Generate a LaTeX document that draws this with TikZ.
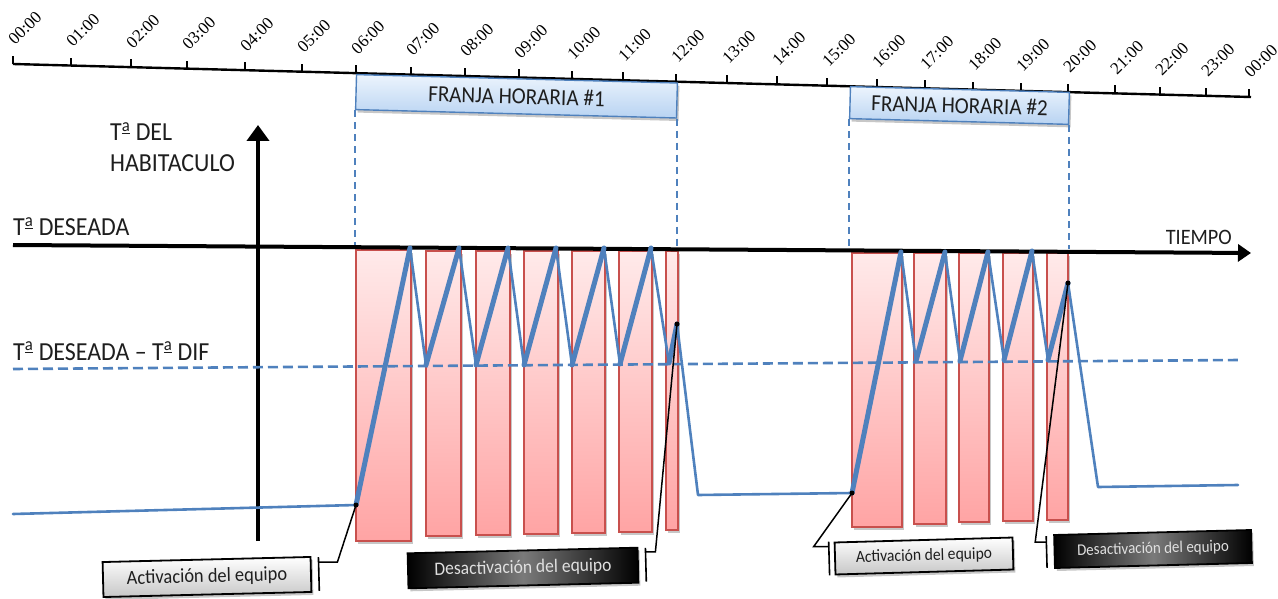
\documentclass[tikz,border=0pt]{standalone}
\usepackage{fontspec}
\newfontfamily\lblfont[FakeStretch=0.92]{Carlito}
\newfontfamily\timefont{Liberation Serif}
\usetikzlibrary{arrows.meta,shadows,calc}

% feminine ordinal with its underline, as in "Tª"
\newcommand\ordfem{\textsuperscript{\underline{a}}}

\definecolor{curveblue}{RGB}{79,129,189}
\definecolor{barred}{RGB}{200,80,77}
\definecolor{bartop}{RGB}{255,234,234}
\definecolor{barbot}{RGB}{255,164,164}
\definecolor{bandtop}{RGB}{236,244,253}
\definecolor{bandbot}{RGB}{184,211,242}
\definecolor{txtdark}{RGB}{30,30,30}

\tikzset{
  softshadow/.style={drop shadow={shadow xshift=2pt,shadow yshift=-3pt,opacity=0.22,fill=black}},
  timeaxis/.style={line width=2.4pt,black},
  tickline/.style={line width=2.4pt,black},
  timelbl/.style={font=\timefont\fontsize{17}{17}\selectfont,rotate=45,anchor=base west,inner sep=0pt},
  band/.style={draw=curveblue,line width=1.4pt,top color=bandtop,bottom color=bandbot,
    inner sep=0pt,softshadow,text=txtdark,font=\lblfont\fontsize{23}{23}\selectfont},
  guide/.style={curveblue,line width=1.6pt,dash pattern=on 7pt off 5pt},
  heatbar/.style={draw=barred,line width=1.4pt,top color=bartop,bottom color=barbot,softshadow},
  mainaxis/.style={line width=4pt,black},
  threshold/.style={curveblue,line width=2.6pt,dash pattern=on 10pt off 5pt},
  cooling/.style={curveblue,line width=2.6pt,line join=round,line cap=round},
  heating/.style={curveblue,line width=5pt,line join=round,line cap=round},
  bigtxt/.style={font=\lblfont\fontsize{26}{26}\selectfont,text=txtdark,inner sep=0pt,anchor=base west},
  callgray/.style={draw=black,line width=1.8pt,top color=white,bottom color=black!22,
    inner sep=0pt,softshadow,text=txtdark},
  callblack/.style={draw=black,line width=1.8pt,left color=black,right color=black,middle color=black!52,
    inner sep=0pt,softshadow,text=black!12},
  accentbar/.style={line width=1.6pt,black},
  leader/.style={line width=1.5pt,black},
  dot/.style={fill=black},
}

\begin{document}
\begin{tikzpicture}[x=1pt,y=-1pt]
\useasboundingbox (0,0) rectangle (1278,599);

% ---- time scale across the top (24 h) ----
\draw[timeaxis] (13,64) -- (1251,97);
\foreach \x/\t [count=\i] in {13/00:00,71/01:00,131/02:00,187/03:00,245/04:00,302/05:00,
    356/06:00,411/07:00,465/08:00,519/09:00,572/10:00,623/11:00,676/12:00,727/13:00,
    777/14:00,827/15:00,877/16:00,925/17:00,973/18:00,1021/19:00,1068/20:00,1115/21:00,
    1160/22:00,1206/23:00,1249/00:00}{
  \draw[tickline] (\x,{64+0.02666*(\x-13)}) -- ++(0,-8);
  \node[timelbl] (h\i) at ({\x+2},{64+0.02666*(\x-13)-18}) {\t};
}

% ---- time bands ----
\node[band,rotate=-1.5,minimum width=321pt,minimum height=35pt] (f1) at (516.5,96.3) {FRANJA HORARIA \#1};
\node[band,rotate=-1.5,minimum width=219pt,minimum height=32pt] (f2) at (959.5,105.5) {FRANJA HORARIA \#2};

\coordinate (lvl) at (0,249);
\draw[guide] (f1.south west) -- (f1.south west |- lvl);
\draw[guide] (f1.south east) -- (f1.south east |- lvl);
\draw[guide] (f2.south west) -- (f2.south west |- lvl);
\draw[guide] (f2.south east) -- (f2.south east |- lvl);

% ---- heater on periods ----
\path[heatbar] (356,250) rectangle (411,541);
\path[heatbar] (426,251) rectangle (461,536);
\path[heatbar] (476,251) rectangle (510,535);
\path[heatbar] (524,251) rectangle (558,534);
\path[heatbar] (572,251) rectangle (605,533);
\path[heatbar] (619,251) rectangle (652,532);
\path[heatbar] (666,251) rectangle (678,530);

\path[heatbar] (852,253) rectangle (902,527);
\path[heatbar] (914,253) rectangle (946,524);
\path[heatbar] (959,253) rectangle (989,522);
\path[heatbar] (1003,253) rectangle (1033,521);
\path[heatbar] (1047,253) rectangle (1068,520);

% ---- axes ----
\coordinate (ybot) at (258,541);
\coordinate (ytop) at (258,125);
\draw[mainaxis,-{Triangle[length=16pt,width=22pt]}] (ybot) -- (ytop);
\coordinate (tstart) at (13,245);
\coordinate (tend) at (1251,253);
\draw[mainaxis,-{Triangle[length=13pt,width=17pt]}] (tstart) -- (tend);

\coordinate (dstart) at (13,369);
\coordinate (dend) at (1240,360);
\draw[threshold] (dstart) -- (dend);

% ---- cabin temperature ----
\coordinate (on1) at (356,505);
\coordinate (off1) at (677,324);
\coordinate (on2) at (852,493);
\coordinate (off2) at (1068,283);

\draw[cooling] (13,514) -- (on1) -- (410,248) -- (426,365) -- (459,248) -- (476,365)
  -- (508,248) -- (524,365) -- (556,248) -- (572,365) -- (604,248) -- (620,364)
  -- (651,248) -- (669,363) -- (off1) -- (698,495) -- (on2) -- (901,252) -- (916,361)
  -- (945,252) -- (960,361) -- (988,252) -- (1004,360) -- (1032,251) -- (1048,360)
  -- (off2) -- (1098,487) -- (1238,485);
\draw[heating] (on1) -- (410,248);
\draw[heating] (426,365) -- (459,248);
\draw[heating] (476,365) -- (508,248);
\draw[heating] (524,365) -- (556,248);
\draw[heating] (572,365) -- (604,248);
\draw[heating] (620,364) -- (651,248);
\draw[heating] (669,363) -- (off1);
\draw[heating] (on2) -- (901,252);
\draw[heating] (916,361) -- (945,252);
\draw[heating] (960,361) -- (988,252);
\draw[heating] (1004,360) -- (1032,251);
\draw[heating] (1048,360) -- (off2);

% ---- callouts ----
\node[callgray,rotate=1.4,minimum width=208pt,minimum height=35pt,
  font=\lblfont\fontsize{20}{20}\selectfont] (a1) at (207,577) {Activación del equipo};
\node[callblack,rotate=1.4,minimum width=230pt,minimum height=35pt,
  font=\lblfont\fontsize{19}{19}\selectfont] (d1) at (523,568) {Desactivación del equipo};
\node[callgray,rotate=1.6,minimum width=178pt,minimum height=32pt,
  font=\lblfont\fontsize{17}{17}\selectfont] (a2) at (924,556) {Activación del equipo};
\node[callblack,rotate=1.45,minimum width=197pt,minimum height=33pt,
  font=\lblfont\fontsize{16.3}{16.3}\selectfont] (d2) at (1153,549) {Desactivación del equipo};

\draw[accentbar] ([shift={(7pt,-1pt)}]a1.north east) -- ([shift={(7pt,2pt)}]a1.south east);
\draw[leader] ([shift={(7pt,-6pt)}]a1.north east) -- ++(19pt,0pt) -- (on1);
\draw[accentbar] ([shift={(7pt,-1pt)}]d1.north east) -- ([shift={(7pt,2pt)}]d1.south east);
\draw[leader] ([shift={(7pt,-5pt)}]d1.north east) -- ++(10pt,0pt) -- (off1);
\draw[accentbar] ([shift={(-5pt,0pt)}]a2.north west) -- ([shift={(-5pt,0pt)}]a2.south west);
\draw[leader] ([shift={(-5pt,-5pt)}]a2.north west) -- ++(-15pt,0pt) -- (on2);
\draw[accentbar] ([shift={(-7pt,-2pt)}]d2.north west) -- ([shift={(-7pt,1pt)}]d2.south west);
\draw[leader] ([shift={(-7pt,-8pt)}]d2.north west) -- ++(-11pt,0pt) -- (off2);

\fill[dot] (on1) circle (2.5pt);
\fill[dot] (off1) circle (2.5pt);
\fill[dot] (on2) circle (2.5pt);
\fill[dot] (off2) circle (2.5pt);

% ---- axis captions ----
\node[bigtxt] (ylab1) at (110,141) {T\ordfem{} DEL};
\node[bigtxt] (ylab2) at (110,172) {HABITACULO};
\node[bigtxt] (tset) at (13,236) {T\ordfem{} DESEADA};
\node[bigtxt] (tdif) at (13,360) {T\ordfem{} DESEADA – T\ordfem{} DIF};
\node[bigtxt,anchor=base east,font=\lblfont\fontsize{22}{22}\selectfont] (tiempo) at (1232,244) {TIEMPO};
\end{tikzpicture}
\end{document}
